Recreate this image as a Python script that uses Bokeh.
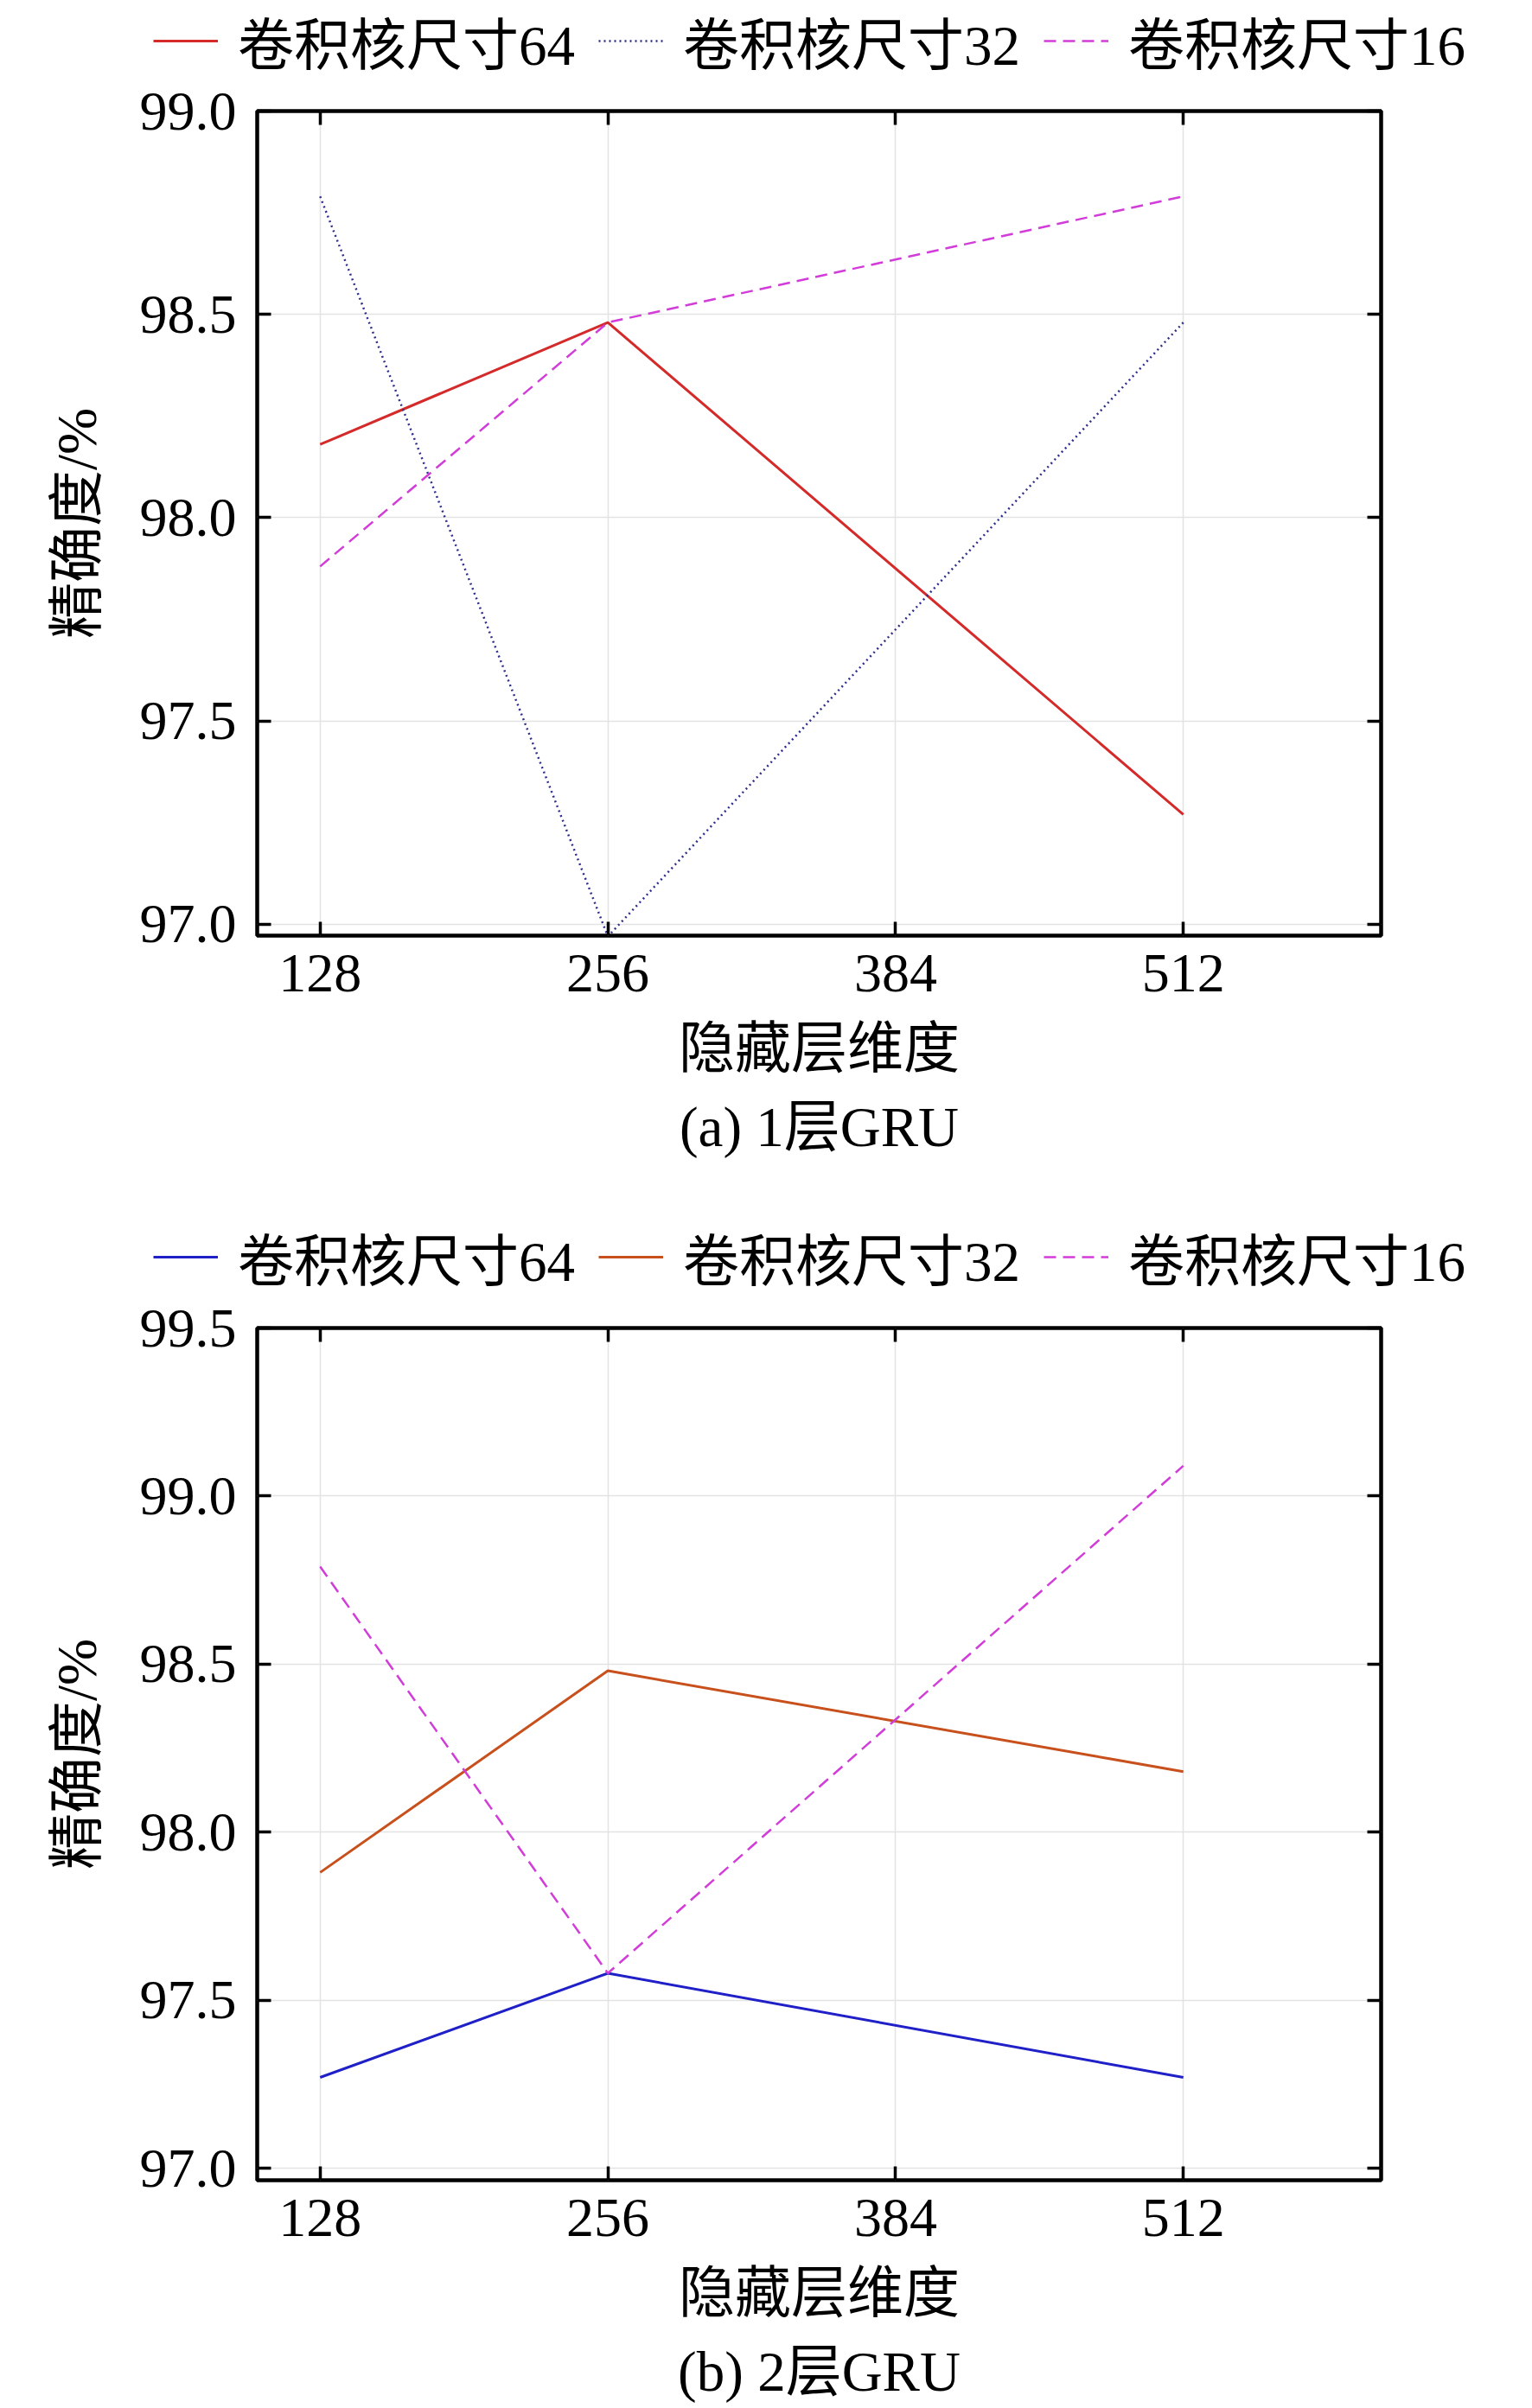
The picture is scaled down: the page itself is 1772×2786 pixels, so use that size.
from bokeh.plotting import figure
from bokeh.models import (Range1d, FixedTicker, LinearAxis, Legend, LegendItem,
                          Title, NumeralTickFormatter)
from bokeh.embed import file_html
from bokeh.resources import INLINE

# ---------------- data ----------------
hidden_dims = [128, 256, 512]
x_ticks = [128, 256, 384, 512]
series_names = ["卷积核尺寸64", "卷积核尺寸32", "卷积核尺寸16"]

gru1_k64 = [98.18, 98.48, 97.27]
gru1_k32 = [98.79, 96.97, 98.48]
gru1_k16 = [97.88, 98.48, 98.79]

gru2_k64 = [97.27, 97.58, 97.27]
gru2_k32 = [97.88, 98.48, 98.18]
gru2_k16 = [98.79, 97.58, 99.09]

y_ticks_1 = [97.0, 97.5, 98.0, 98.5, 99.0]
y_ticks_2 = [97.0, 97.5, 98.0, 98.5, 99.0, 99.5]

x_label = "隐藏层维度"
y_label = "精确度/%"
captions = ["(a) 1层GRU", "(b) 2层GRU"]

FONT = "Liberation Serif, Noto Sans CJK SC"
PAGE_W = 1772


def style_axis(ax, ticks, show_labels=True):
    ax.ticker = FixedTicker(ticks=ticks)
    ax.major_tick_in = 16
    ax.major_tick_out = 0
    ax.major_tick_line_width = 3.5
    ax.major_tick_line_color = "black"
    ax.minor_tick_line_color = None
    ax.axis_line_color = None
    ax.major_label_text_font = FONT
    ax.major_label_text_font_size = "64px"
    if show_labels:
        ax.major_label_text_color = "black"
    else:
        ax.major_label_text_color = None
        ax.major_label_standoff = 0


def make_legend_strip(series, height):
    """A strip above each panel that holds only the legend."""
    q = figure(width=PAGE_W, height=height, title=None,
               x_range=Range1d(0, 1), y_range=Range1d(0, 1),
               x_axis_type=None, y_axis_type=None,
               output_backend="svg", toolbar_location=None,
               min_border_left=177, min_border_right=0,
               min_border_top=0, min_border_bottom=0)
    q.outline_line_color = None
    q.background_fill_color = "white"
    q.border_fill_color = "white"
    items = []
    for name, (vals, color, dash, width) in zip(series_names, series):
        # same series; outside this strip's ranges, only the legend shows
        r = q.line(hidden_dims, vals, line_color=color, line_dash=dash,
                   line_width=width)
        items.append(LegendItem(label=name, renderers=[r]))
    legend = Legend(items=items, orientation="horizontal", location=(0, -4),
                    label_text_font=FONT, label_text_font_size="65px",
                    label_text_color="black",
                    glyph_width=75, glyph_height=40,
                    label_standoff=23, spacing=27, padding=0, margin=0,
                    border_line_color=None, background_fill_alpha=0)
    q.add_layout(legend, "center")
    return q


def make_fig(series, y_start, y_end, y_ticks, top_b, frame_h, bottom_b, caption):
    p = figure(frame_width=1300, frame_height=frame_h, title=None,
               x_range=Range1d(100, 600), y_range=Range1d(y_start, y_end),
               output_backend="svg", toolbar_location=None,
               min_border_left=297, min_border_right=175,
               min_border_top=top_b, min_border_bottom=bottom_b)
    p.outline_line_color = "black"
    p.outline_line_width = 4.5
    p.outline_line_alpha = 1
    p.background_fill_color = "white"
    p.border_fill_color = "white"

    p.xgrid.grid_line_color = "#e3e3e3"
    p.ygrid.grid_line_color = "#e3e3e3"
    p.xgrid.grid_line_width = 1.5
    p.ygrid.grid_line_width = 1.5
    p.xgrid.ticker = FixedTicker(ticks=x_ticks)
    p.ygrid.ticker = FixedTicker(ticks=y_ticks)

    style_axis(p.xaxis[0], x_ticks)
    style_axis(p.yaxis[0], y_ticks)
    p.yaxis[0].formatter = NumeralTickFormatter(format="0.0")
    p.xaxis[0].major_label_standoff = 22
    p.yaxis[0].major_label_standoff = 24

    p.xaxis[0].axis_label = x_label
    p.yaxis[0].axis_label = y_label
    for ax in (p.xaxis[0], p.yaxis[0]):
        ax.axis_label_text_font = FONT
        ax.axis_label_text_font_size = "65px"
        ax.axis_label_text_font_style = "normal"
        ax.axis_label_text_color = "black"
    p.xaxis[0].axis_label_standoff = 27
    p.yaxis[0].axis_label_standoff = 34

    top = LinearAxis()
    style_axis(top, x_ticks, show_labels=False)
    p.add_layout(top, "above")
    right = LinearAxis()
    style_axis(right, y_ticks, show_labels=False)
    p.add_layout(right, "right")

    for vals, color, dash, width in series:
        p.line(hidden_dims, vals, line_color=color, line_dash=dash,
               line_width=width)

    t = Title(text=caption, align="center", text_font=FONT,
              text_font_size="65px", text_font_style="normal",
              text_color="black", standoff=28)
    p.add_layout(t, "below")
    return p


series_1 = [(gru1_k64, "#d42a2a", "solid", 3),
            (gru1_k32, "#2e2e8f", "2 4", 2.5),
            (gru1_k16, "#d23cd8", "14 8", 2.5)]
series_2 = [(gru2_k64, "#2020c8", "solid", 3),
            (gru2_k32, "#c8501c", "solid", 3),
            (gru2_k16, "#d23cd8", "14 8", 2.5)]

leg1 = make_legend_strip(series_1, 90)
p1 = make_fig(series_1, 96.972, 99.0, y_ticks_1, 38, 954, 325, captions[0])
leg2 = make_legend_strip(series_2, 90)
p2 = make_fig(series_2, 96.964, 99.5, y_ticks_2, 39, 986, 264, captions[1])

# separate roots so the legend strips keep their own (wider) frames
open("out.html", "w").write(file_html([leg1, p1, leg2, p2], INLINE))
